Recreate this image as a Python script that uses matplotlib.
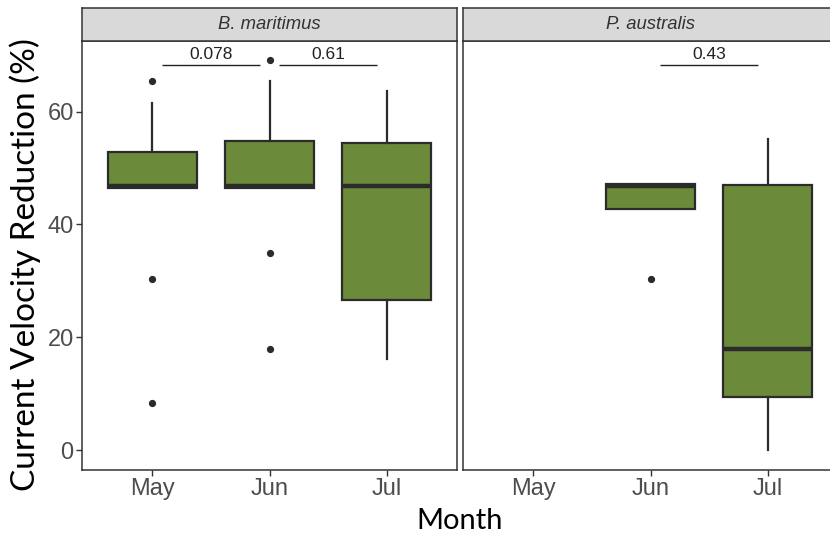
import matplotlib
matplotlib.use("Agg")
import matplotlib.pyplot as plt

plt.rcParams['font.family'] = ['Liberation Sans', 'DejaVu Sans']

months = ["May", "Jun", "Jul"]
species = ["B. maritimus", "P. australis"]

# B. maritimus box statistics (May, Jun, Jul)
bm_whislo = [46.5, 46.5, 16.1]
bm_q1 = [46.5, 46.5, 26.7]
bm_med = [46.8, 46.8, 46.9]
bm_q3 = [52.8, 54.7, 54.5]
bm_whishi = [61.6, 65.4, 63.7]
bm_fliers = [[65.4, 30.4, 8.3], [69.1, 35.0, 17.9], []]

# P. australis box statistics (Jun, Jul); no May data
pa_months = ["Jun", "Jul"]
pa_whislo = [42.7, 0.1]
pa_q1 = [42.7, 9.5]
pa_med = [46.8, 17.9]
pa_q3 = [47.2, 47.0]
pa_whishi = [47.2, 55.1]
pa_fliers = [[30.4], []]

# p-value brackets: (group1, group2, label)
bm_brackets = [("May", "Jun", "0.078"), ("Jun", "Jul", "0.61")]
pa_brackets = [("Jun", "Jul", "0.43")]
bracket_y = 68.3

fill = "#6b8a3a"
edge = "#2b2b2b"

W, H = 830, 535
fig = plt.figure(figsize=(W / 100, H / 100), dpi=100)

panel_top, panel_bot = 41, 470
strip_top = 8
lefts = [82, 463]
pw = 375

def make_stats(whislo, q1, med, q3, whishi, fliers):
    return [dict(whislo=a, q1=b, med=c, q3=d, whishi=e, fliers=f)
            for a, b, c, d, e, f in zip(whislo, q1, med, q3, whishi, fliers)]

data = [
    (months, make_stats(bm_whislo, bm_q1, bm_med, bm_q3, bm_whishi, bm_fliers), bm_brackets),
    (pa_months, make_stats(pa_whislo, pa_q1, pa_med, pa_q3, pa_whishi, pa_fliers), pa_brackets),
]

for i, (sp, (mlist, stats, brackets)) in enumerate(zip(species, data)):
    ax = fig.add_axes([lefts[i] / W, 1 - panel_bot / H, pw / W, (panel_bot - panel_top) / H])
    pos = [months.index(m) for m in mlist]
    ax.bxp(stats, positions=pos, widths=0.76, patch_artist=True, showcaps=False,
           boxprops=dict(facecolor=fill, edgecolor=edge, linewidth=1.6),
           medianprops=dict(color=edge, linewidth=3.2),
           whiskerprops=dict(color=edge, linewidth=1.6),
           flierprops=dict(marker='o', markersize=4.2, markerfacecolor=edge,
                           markeredgecolor=edge))
    ax.set_xlim(-0.6, 2.6)
    ax.set_ylim(-3.5, 72.5)
    ax.set_xticks(range(len(months)))
    ax.set_xticklabels(months, fontsize=17, color="#4d4d4d")
    ax.set_yticks([0, 20, 40, 60])
    for s in ax.spines.values():
        s.set_color("#333333")
        s.set_linewidth(1.1)
    ax.tick_params(axis='both', length=4, width=1, color="#333333", pad=2)
    if i == 0:
        ax.set_yticklabels(["0", "20", "40", "60"], fontsize=17, color="#4d4d4d")
    else:
        ax.tick_params(axis='y', left=False, labelleft=False)
    for g1, g2, lab in brackets:
        x1 = months.index(g1) + 0.08
        x2 = months.index(g2) - 0.08
        ax.plot([x1, x2], [bracket_y, bracket_y], color="#222222", linewidth=1.0,
                solid_capstyle='butt')
        ax.text((x1 + x2) / 2, bracket_y + 0.4, lab, ha='center', va='bottom',
                fontsize=12.5, color="#222222")
    # strip
    sax = fig.add_axes([lefts[i] / W, 1 - panel_top / H, pw / W, (panel_top - strip_top) / H])
    sax.set_facecolor("#d9d9d9")
    sax.set_xticks([]); sax.set_yticks([])
    for s in sax.spines.values():
        s.set_color("#333333")
        s.set_linewidth(1.1)
    sax.text(0.5, 0.5, sp, ha='center', va='center', fontsize=13.3,
             style='italic', color="#333333", transform=sax.transAxes)

fig.text(460 / W, 1 - 521 / H, "Month", ha='center', va='center', fontsize=21,
         color="black", family=['Lato', 'DejaVu Sans'])
fig.text(25 / W, 1 - 265 / H, "Current Velocity Reduction (%)", ha='center', va='center',
         rotation=90, fontsize=24, color="black", family=['Lato', 'DejaVu Sans'])

fig.savefig("out.png", dpi=100)
